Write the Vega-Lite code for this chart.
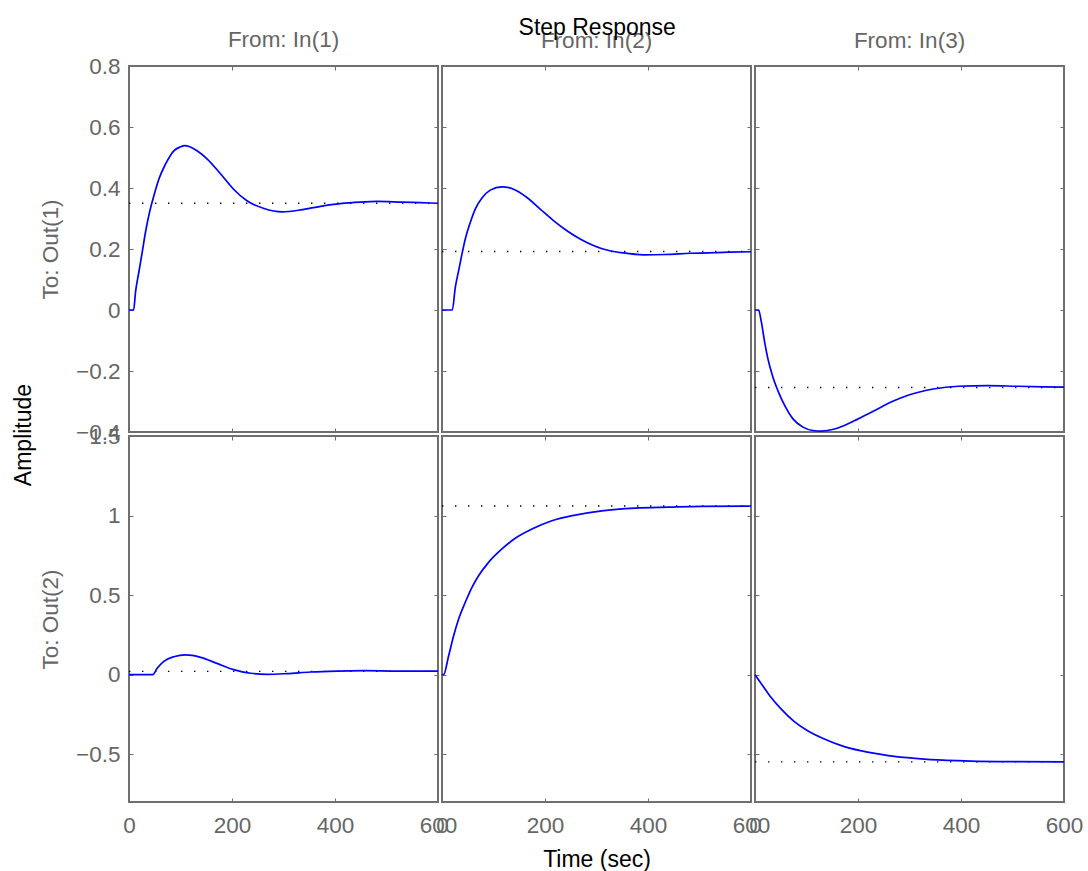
{
"$schema":"https://vega.github.io/schema/vega-lite/v6.json",
"padding":{"left":12,"top":16,"right":5,"bottom":5},
"background":"white",
"config":{
 "font":"Liberation Sans",
 "view":{"stroke":"#6f6f6f","strokeWidth":2},
 "axis":{"labelFont":"Liberation Sans","labelFontSize":22.5,"labelColor":"#666666","tickColor":"#6f6f6f","tickWidth":1,"tickSize":-4,"titleFont":"Liberation Sans","titleFontSize":22.5,"titleFontWeight":"normal","titleColor":"#666666","grid":false,"domain":false,"labelFlush":false,"labelOverlap":false},
 "axisX":{"labelPadding":16,"titlePadding":12},
 "axisY":{"labelPadding":13,"titlePadding":13},
 "title":{"font":"Liberation Sans","fontSize":22.5,"fontWeight":"normal","color":"#666666","offset":13}
},
"datasets":{
 "resp":[
  {"p":"11","t":0,"v":0},{"p":"11","t":9,"v":0},{"p":"11","t":12.6,"v":0.058},{"p":"11","t":19,"v":0.123},{"p":"11","t":25.6,"v":0.189},{"p":"11","t":32,"v":0.255},{"p":"11","t":39.8,"v":0.32},{"p":"11","t":48.2,"v":0.374},{"p":"11","t":57.9,"v":0.429},{"p":"11","t":70.8,"v":0.478},{"p":"11","t":87,"v":0.522},{"p":"11","t":100,"v":0.535},{"p":"11","t":108,"v":0.539},{"p":"11","t":118,"v":0.535},{"p":"11","t":132,"v":0.522},{"p":"11","t":152,"v":0.495},{"p":"11","t":178,"v":0.446},{"p":"11","t":203,"v":0.396},{"p":"11","t":229,"v":0.358},{"p":"11","t":262,"v":0.333},{"p":"11","t":297,"v":0.322},{"p":"11","t":333,"v":0.328},{"p":"11","t":372,"v":0.34},{"p":"11","t":410,"v":0.349},{"p":"11","t":449,"v":0.354},{"p":"11","t":482,"v":0.356},{"p":"11","t":527,"v":0.354},{"p":"11","t":565,"v":0.352},{"p":"11","t":600,"v":0.35},
  {"p":"12","t":0,"v":0},{"p":"12","t":20,"v":0},{"p":"12","t":25.8,"v":0.074},{"p":"12","t":32.3,"v":0.129},{"p":"12","t":38.7,"v":0.183},{"p":"12","t":45.2,"v":0.233},{"p":"12","t":54.9,"v":0.287},{"p":"12","t":64.6,"v":0.331},{"p":"12","t":77.6,"v":0.367},{"p":"12","t":93.7,"v":0.393},{"p":"12","t":116.4,"v":0.404},{"p":"12","t":139,"v":0.396},{"p":"12","t":164.9,"v":0.369},{"p":"12","t":190.7,"v":0.331},{"p":"12","t":216.5,"v":0.293},{"p":"12","t":242.5,"v":0.26},{"p":"12","t":268.3,"v":0.233},{"p":"12","t":311,"v":0.201},{"p":"12","t":352,"v":0.187},{"p":"12","t":392,"v":0.181},{"p":"12","t":433,"v":0.182},{"p":"12","t":482,"v":0.186},{"p":"12","t":547,"v":0.189},{"p":"12","t":600,"v":0.191},
  {"p":"13","t":0,"v":0},{"p":"13","t":7,"v":0},{"p":"13","t":12.4,"v":-0.04},{"p":"13","t":18.8,"v":-0.106},{"p":"13","t":25.2,"v":-0.161},{"p":"13","t":35,"v":-0.221},{"p":"13","t":44.6,"v":-0.265},{"p":"13","t":57.6,"v":-0.313},{"p":"13","t":73.7,"v":-0.357},{"p":"13","t":93.1,"v":-0.384},{"p":"13","t":112.5,"v":-0.395},{"p":"13","t":128.8,"v":-0.397},{"p":"13","t":154.6,"v":-0.39},{"p":"13","t":187,"v":-0.368},{"p":"13","t":225.8,"v":-0.335},{"p":"13","t":271,"v":-0.297},{"p":"13","t":300,"v":-0.278},{"p":"13","t":346,"v":-0.259},{"p":"13","t":395,"v":-0.25},{"p":"13","t":452,"v":-0.248},{"p":"13","t":509,"v":-0.25},{"p":"13","t":600,"v":-0.253},
  {"p":"21","t":0,"v":0},{"p":"21","t":46,"v":0},{"p":"21","t":54.7,"v":0.04},{"p":"21","t":67.6,"v":0.084},{"p":"21","t":87,"v":0.113},{"p":"21","t":109.6,"v":0.124},{"p":"21","t":139,"v":0.109},{"p":"21","t":171,"v":0.071},{"p":"21","t":203,"v":0.032},{"p":"21","t":236,"v":0.009},{"p":"21","t":268,"v":0.002},{"p":"21","t":307,"v":0.007},{"p":"21","t":352,"v":0.017},{"p":"21","t":404,"v":0.023},{"p":"21","t":456,"v":0.025},{"p":"21","t":514,"v":0.023},{"p":"21","t":600,"v":0.022},
  {"p":"22","t":0,"v":0},{"p":"22","t":3,"v":0},{"p":"22","t":12.9,"v":0.119},{"p":"22","t":22.6,"v":0.245},{"p":"22","t":32.3,"v":0.35},{"p":"22","t":45.2,"v":0.455},{"p":"22","t":58.2,"v":0.549},{"p":"22","t":71,"v":0.622},{"p":"22","t":90.4,"v":0.706},{"p":"22","t":116.4,"v":0.79},{"p":"22","t":142.2,"v":0.857},{"p":"22","t":174.6,"v":0.915},{"p":"22","t":213.4,"v":0.967},{"p":"22","t":258.6,"v":1.003},{"p":"22","t":310.4,"v":1.03},{"p":"22","t":375,"v":1.047},{"p":"22","t":440,"v":1.053},{"p":"22","t":504,"v":1.058},{"p":"22","t":600,"v":1.06},
  {"p":"23","t":0,"v":0},{"p":"23","t":15,"v":-0.069},{"p":"23","t":31,"v":-0.142},{"p":"23","t":50.5,"v":-0.215},{"p":"23","t":76.4,"v":-0.295},{"p":"23","t":102.2,"v":-0.352},{"p":"23","t":134.6,"v":-0.404},{"p":"23","t":173.4,"v":-0.452},{"p":"23","t":218.6,"v":-0.487},{"p":"23","t":270.4,"v":-0.513},{"p":"23","t":328.6,"v":-0.53},{"p":"23","t":393.2,"v":-0.54},{"p":"23","t":470.8,"v":-0.546},{"p":"23","t":600,"v":-0.548}
 ],
 "final":[
  {"p":"11","v":0.35,"t0":0,"t1":600},{"p":"12","v":0.192,"t0":0,"t1":600},{"p":"13","v":-0.254,"t0":0,"t1":600},
  {"p":"21","v":0.021,"t0":0,"t1":600},{"p":"22","v":1.06,"t0":0,"t1":600},{"p":"23","v":-0.548,"t0":0,"t1":600}
 ]
},
"title":{"text":"Step Response","color":"black","fontSize":23,"anchor":"middle","offset":-12,"dx":49},
"vconcat":[
 {
  "title":{"text":"Amplitude","orient":"left","anchor":"middle","color":"black","fontSize":23,"offset":3,"dx":15},
  "columns":3,
  "spacing":4,
  "bounds":"flush",
  "concat":[
     {"width":309,"height":366,"title":{"text":"From: In(1)","offset":4},
      "layer":[
       {"data":{"name":"final"},"transform":[{"filter":"datum.p=='11'"}],
        "mark":{"type":"rule","color":"black","strokeWidth":1.4,"strokeDash":[1.4,11.6]},
        "encoding":{
         "x":{"field":"t0","type":"quantitative","scale":{"domain":[0,600],"nice":false,"zero":false},"axis":{"orient":"top","values":[0,200,400,600],"labels":false,"title":null}},
         "x2":{"field":"t1"},
         "y":{"field":"v","type":"quantitative","scale":{"domain":[-0.4,0.8],"nice":false,"zero":false},"axis":{"orient":"right","values":[-0.4,-0.2,0,0.2,0.4,0.6,0.8],"labels":false,"title":null}}}},
       {"data":{"name":"resp"},"transform":[{"filter":"datum.p=='11'"}],
        "mark":{"type":"line","color":"#0000ff","strokeWidth":1.7,"interpolate":"monotone"},
        "encoding":{
         "x":{"field":"t","type":"quantitative","scale":{"domain":[0,600],"nice":false,"zero":false},"axis":{"orient":"bottom","values":[0,200,400,600],"labels":false,"title":null}},
         "y":{"field":"v","type":"quantitative","scale":{"domain":[-0.4,0.8],"nice":false,"zero":false},"axis":{"orient":"left","values":[-0.4,-0.2,0,0.2,0.4,0.6,0.8],"format":"~g","title":"To: Out(1)"}}}}
      ],
      "resolve":{"axis":{"x":"independent","y":"independent"}}},
     {"width":309,"height":366,"title":{"text":"From: In(2)"},
      "layer":[
       {"data":{"name":"final"},"transform":[{"filter":"datum.p=='12'"}],
        "mark":{"type":"rule","color":"black","strokeWidth":1.4,"strokeDash":[1.4,11.6]},
        "encoding":{
         "x":{"field":"t0","type":"quantitative","scale":{"domain":[0,600],"nice":false,"zero":false},"axis":{"orient":"top","values":[0,200,400,600],"labels":false,"title":null}},
         "x2":{"field":"t1"},
         "y":{"field":"v","type":"quantitative","scale":{"domain":[-0.4,0.8],"nice":false,"zero":false},"axis":{"orient":"right","values":[-0.4,-0.2,0,0.2,0.4,0.6,0.8],"labels":false,"title":null}}}},
       {"data":{"name":"resp"},"transform":[{"filter":"datum.p=='12'"}],
        "mark":{"type":"line","color":"#0000ff","strokeWidth":1.7,"interpolate":"monotone"},
        "encoding":{
         "x":{"field":"t","type":"quantitative","scale":{"domain":[0,600],"nice":false,"zero":false},"axis":{"orient":"bottom","values":[0,200,400,600],"labels":false,"title":null}},
         "y":{"field":"v","type":"quantitative","scale":{"domain":[-0.4,0.8],"nice":false,"zero":false},"axis":{"orient":"left","values":[-0.4,-0.2,0,0.2,0.4,0.6,0.8],"labels":false,"title":null}}}}
      ],
      "resolve":{"axis":{"x":"independent","y":"independent"}}},
     {"width":309,"height":366,"title":{"text":"From: In(3)"},
      "layer":[
       {"data":{"name":"final"},"transform":[{"filter":"datum.p=='13'"}],
        "mark":{"type":"rule","color":"black","strokeWidth":1.4,"strokeDash":[1.4,11.6]},
        "encoding":{
         "x":{"field":"t0","type":"quantitative","scale":{"domain":[0,600],"nice":false,"zero":false},"axis":{"orient":"top","values":[0,200,400,600],"labels":false,"title":null}},
         "x2":{"field":"t1"},
         "y":{"field":"v","type":"quantitative","scale":{"domain":[-0.4,0.8],"nice":false,"zero":false},"axis":{"orient":"right","values":[-0.4,-0.2,0,0.2,0.4,0.6,0.8],"labels":false,"title":null}}}},
       {"data":{"name":"resp"},"transform":[{"filter":"datum.p=='13'"}],
        "mark":{"type":"line","color":"#0000ff","strokeWidth":1.7,"interpolate":"monotone"},
        "encoding":{
         "x":{"field":"t","type":"quantitative","scale":{"domain":[0,600],"nice":false,"zero":false},"axis":{"orient":"bottom","values":[0,200,400,600],"labels":false,"title":null}},
         "y":{"field":"v","type":"quantitative","scale":{"domain":[-0.4,0.8],"nice":false,"zero":false},"axis":{"orient":"left","values":[-0.4,-0.2,0,0.2,0.4,0.6,0.8],"labels":false,"title":null}}}}
      ],
      "resolve":{"axis":{"x":"independent","y":"independent"}}},
     {"width":309,"height":366,
      "layer":[
       {"data":{"name":"final"},"transform":[{"filter":"datum.p=='21'"}],
        "mark":{"type":"rule","color":"black","strokeWidth":1.4,"strokeDash":[1.4,11.6]},
        "encoding":{
         "x":{"field":"t0","type":"quantitative","scale":{"domain":[0,600],"nice":false,"zero":false},"axis":{"orient":"top","values":[0,200,400,600],"labels":false,"title":null}},
         "x2":{"field":"t1"},
         "y":{"field":"v","type":"quantitative","scale":{"domain":[-0.8,1.5],"nice":false,"zero":false},"axis":{"orient":"right","values":[-0.5,0,0.5,1,1.5],"labels":false,"title":null}}}},
       {"data":{"name":"resp"},"transform":[{"filter":"datum.p=='21'"}],
        "mark":{"type":"line","color":"#0000ff","strokeWidth":1.7,"interpolate":"monotone"},
        "encoding":{
         "x":{"field":"t","type":"quantitative","scale":{"domain":[0,600],"nice":false,"zero":false},"axis":{"orient":"bottom","values":[0,200,400,600],"format":"d","title":null}},
         "y":{"field":"v","type":"quantitative","scale":{"domain":[-0.8,1.5],"nice":false,"zero":false},"axis":{"orient":"left","values":[-0.5,0,0.5,1,1.5],"format":"~g","title":"To: Out(2)"}}}}
      ],
      "resolve":{"axis":{"x":"independent","y":"independent"}}},
     {"width":309,"height":366,
      "layer":[
       {"data":{"name":"final"},"transform":[{"filter":"datum.p=='22'"}],
        "mark":{"type":"rule","color":"black","strokeWidth":1.4,"strokeDash":[1.4,11.6]},
        "encoding":{
         "x":{"field":"t0","type":"quantitative","scale":{"domain":[0,600],"nice":false,"zero":false},"axis":{"orient":"top","values":[0,200,400,600],"labels":false,"title":null}},
         "x2":{"field":"t1"},
         "y":{"field":"v","type":"quantitative","scale":{"domain":[-0.8,1.5],"nice":false,"zero":false},"axis":{"orient":"right","values":[-0.5,0,0.5,1,1.5],"labels":false,"title":null}}}},
       {"data":{"name":"resp"},"transform":[{"filter":"datum.p=='22'"}],
        "mark":{"type":"line","color":"#0000ff","strokeWidth":1.7,"interpolate":"monotone"},
        "encoding":{
         "x":{"field":"t","type":"quantitative","scale":{"domain":[0,600],"nice":false,"zero":false},"axis":{"orient":"bottom","values":[0,200,400,600],"format":"d","title":"Time (sec)","titleColor":"black","titleFontSize":23}},
         "y":{"field":"v","type":"quantitative","scale":{"domain":[-0.8,1.5],"nice":false,"zero":false},"axis":{"orient":"left","values":[-0.5,0,0.5,1,1.5],"labels":false,"title":null}}}}
      ],
      "resolve":{"axis":{"x":"independent","y":"independent"}}},
     {"width":309,"height":366,
      "layer":[
       {"data":{"name":"final"},"transform":[{"filter":"datum.p=='23'"}],
        "mark":{"type":"rule","color":"black","strokeWidth":1.4,"strokeDash":[1.4,11.6]},
        "encoding":{
         "x":{"field":"t0","type":"quantitative","scale":{"domain":[0,600],"nice":false,"zero":false},"axis":{"orient":"top","values":[0,200,400,600],"labels":false,"title":null}},
         "x2":{"field":"t1"},
         "y":{"field":"v","type":"quantitative","scale":{"domain":[-0.8,1.5],"nice":false,"zero":false},"axis":{"orient":"right","values":[-0.5,0,0.5,1,1.5],"labels":false,"title":null}}}},
       {"data":{"name":"resp"},"transform":[{"filter":"datum.p=='23'"}],
        "mark":{"type":"line","color":"#0000ff","strokeWidth":1.7,"interpolate":"monotone"},
        "encoding":{
         "x":{"field":"t","type":"quantitative","scale":{"domain":[0,600],"nice":false,"zero":false},"axis":{"orient":"bottom","values":[0,200,400,600],"format":"d","title":null}},
         "y":{"field":"v","type":"quantitative","scale":{"domain":[-0.8,1.5],"nice":false,"zero":false},"axis":{"orient":"left","values":[-0.5,0,0.5,1,1.5],"labels":false,"title":null}}}}
      ],
      "resolve":{"axis":{"x":"independent","y":"independent"}}}
  ]
 }
]
}
